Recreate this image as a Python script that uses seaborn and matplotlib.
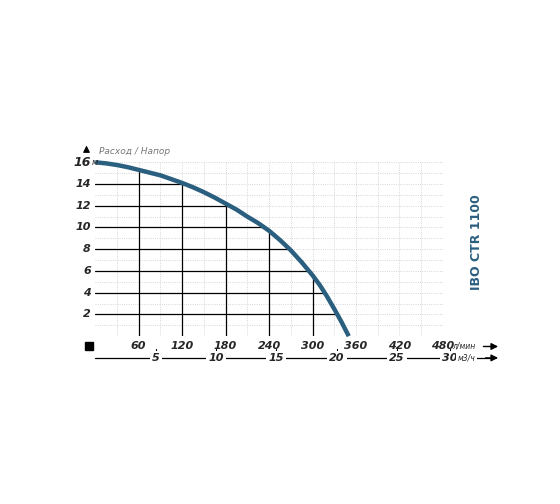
import numpy as np
import matplotlib.pyplot as plt
import seaborn as sns
import pandas as pd

# Pump curve (flow l/min vs head m)
flow = [0, 15, 30, 45, 60, 75, 90, 105, 120, 135, 150, 165, 180, 195, 210, 225, 240,
        255, 270, 285, 300, 310, 320, 330, 340, 350]
head = [16.0, 15.9, 15.75, 15.55, 15.3, 15.05, 14.8, 14.45, 14.1, 13.7, 13.25, 12.75,
        12.2, 11.65, 11.0, 10.4, 9.7, 8.85, 7.9, 6.8, 5.6, 4.7, 3.65, 2.5, 1.3, 0.0]
x_ticks = [60, 120, 180, 240, 300, 360, 420, 480]
y_ticks = [2, 4, 6, 8, 10, 12, 14]
m3h_ticks = [5, 10, 15, 20, 25, 30]

sns.set_style("white")
plt.rcParams['font.family'] = ['DejaVu Sans']

fig = plt.figure(figsize=(5.6, 5.04), dpi=100)
ax = fig.add_axes([0.17, 0.333, 0.621, 0.345])
ax.set_xlim(0, 480)
ax.set_ylim(0, 16)

# light dotted grid
for gx in range(30, 481, 30):
    ax.axvline(gx, color="#c8c8c8", lw=0.6, ls=":", zorder=0)
for gy in range(1, 17):
    ax.axhline(gy, color="#c8c8c8", lw=0.6, ls=":", zorder=0)

# black lines under the curve
fx = np.array(flow, dtype=float)
fy = np.array(head, dtype=float)
for yv in y_ticks:
    xe = np.interp(yv, fy[::-1], fx[::-1])
    ax.plot([0, xe], [yv, yv], color="black", lw=0.9, zorder=1)
for xv in x_ticks:
    if xv < flow[-1]:
        ye = np.interp(xv, fx, fy)
        ax.plot([xv, xv], [0, ye], color="black", lw=0.9, zorder=1)

df = pd.DataFrame({"flow": flow, "head": head})
sns.lineplot(data=df, x="flow", y="head", color="#2b5f7f", lw=3.2, ax=ax,
             clip_on=False, zorder=3, solid_joinstyle="round", solid_capstyle="butt")

for s in ax.spines.values():
    s.set_visible(False)
ax.set_xticks([])
ax.set_yticks([])
ax.set_xlabel("")
ax.set_ylabel("")

tf = dict(fontsize=8, fontweight="bold", fontstyle="italic")
for yv in y_ticks:
    ax.text(-6, yv, str(yv), ha="right", va="center", **tf)
ax.text(-6, 16, "16", ha="right", va="center", fontsize=9, fontweight="bold", fontstyle="italic")
ax.text(-5, 16, "м", ha="left", va="center", fontsize=6, fontstyle="italic")
ax.text(5, 17.0, "Расход / Напор", ha="left", va="center", fontsize=6.5,
        fontstyle="italic", color="#777777")
ax.annotate("", xy=(-12, 17.8), xytext=(-12, 16.9),
            arrowprops=dict(arrowstyle="-|>", color="black", lw=0.8), annotation_clip=False)

for xv in x_ticks:
    ax.text(xv, -0.45, str(xv), ha="center", va="top", **tf)
ax.text(493, -0.5, "л/мин", ha="left", va="top", fontsize=5.5, fontstyle="italic")
ax.annotate("", xy=(560, -0.95), xytext=(532, -0.95),
            arrowprops=dict(arrowstyle="-|>", color="black", lw=1), annotation_clip=False)
ax.plot([-8], [-0.95], marker="s", color="black", ms=6, clip_on=False)

# m3/h secondary scale
ym = -2.0
ax.plot([0, 545], [ym, ym], color="black", lw=0.9, clip_on=False)
for mv in m3h_ticks:
    xl = mv * 1000 / 60 - (10 if mv == 30 else 0)
    ax.text(xl, ym, str(mv), ha="center", va="center", **tf,
            bbox=dict(fc="white", ec="none", pad=1.5))
    ax.plot([xl, xl], [ym + 0.55, ym + 0.85], color="black", lw=0.8, clip_on=False)
ax.text(500, ym, "м3/ч", ha="left", va="center", fontsize=5.5, fontstyle="italic",
        bbox=dict(fc="white", ec="none", pad=1))
ax.annotate("", xy=(560, ym), xytext=(535, ym),
            arrowprops=dict(arrowstyle="-|>", color="black", lw=1), annotation_clip=False)

fig.text(0.85, 0.52, "IBO CTR 1100", rotation=90, ha="center", va="center",
         color="#2b5f7f", fontsize=9, fontweight="bold")

fig.savefig("out.png", dpi=100)
